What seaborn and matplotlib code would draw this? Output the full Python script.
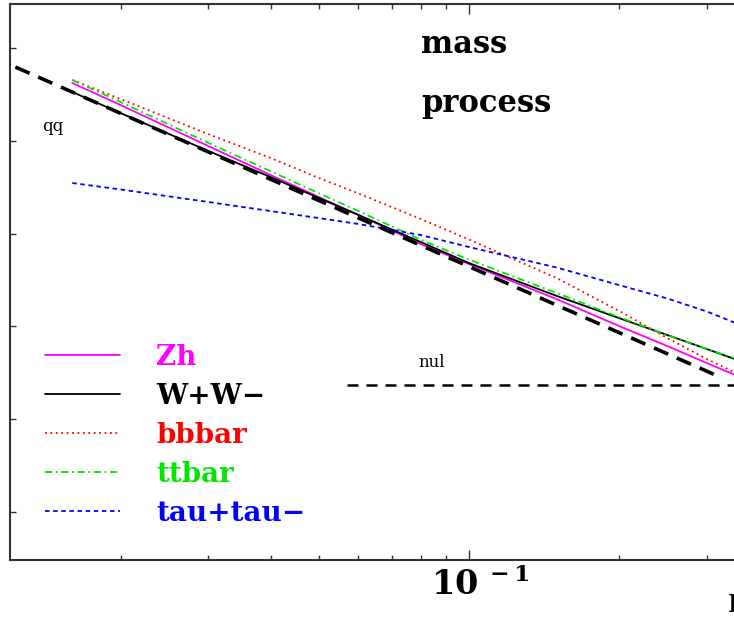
import pandas as pd
import matplotlib
matplotlib.use('Agg')
import matplotlib.pyplot as plt
import matplotlib.transforms as mtransforms
import seaborn as sns

x_grid = [0.016, 0.02, 0.03, 0.04, 0.05, 0.06, 0.08, 0.1, 0.15, 0.2, 0.25, 0.3, 0.35]

zh = [0.420, 0.243, 0.0879, 0.0428, 0.0248, 0.0159, 0.00773, 0.00470, 0.00197,
      0.00101, 0.000615, 0.000403, 0.000285]
ww = [0.336, 0.199, 0.0777, 0.0407, 0.0242, 0.0159, 0.00812, 0.00482, 0.00213,
      0.00123, 0.000808, 0.000571, 0.000424]
bb = [0.452, 0.282, 0.118, 0.0653, 0.0397, 0.0271, 0.0144, 0.00864, 0.00332,
      0.00147, 0.000750, 0.000445, 0.000300]
tt = [0.452, 0.262, 0.0950, 0.0470, 0.0272, 0.0175, 0.00860, 0.00525, 0.00229,
      0.00126, 0.000808, 0.000571, 0.000434]
tautau = [0.0351, 0.0299, 0.0219, 0.0175, 0.0147, 0.0127, 0.00966, 0.00717, 0.00431,
          0.00279, 0.00200, 0.00145, 0.00104]

# thick dashed reference line and the horizontal "nul" line
ref_x = [0.0123, 0.319]
ref_y = [0.624, 0.000285]
nul_x = [0.0569, 0.45]
nul_y = [0.000234, 0.000234]

processes = ['Zh', 'W+W\u2212', 'bbbar', 'ttbar', 'tau+tau\u2212']
colors = ['#ff00ff', 'black', '#ff0000', '#00e600', '#0000ff']
dash_list = ['', '', (1, 2), (4, 2, 1, 2), (2.5, 2)]

df = pd.concat([pd.DataFrame({'x': x_grid, 'y': v, 'process': p})
                for p, v in zip(processes, [zh, ww, bb, tt, tautau])])

sns.set_style('ticks')
plt.rcParams['font.family'] = ['DejaVu Serif']
plt.rcParams['mathtext.fontset'] = 'dejavuserif'
plt.rcParams['text.color'] = 'black'
plt.rcParams['xtick.color'] = 'black'
plt.rcParams['ytick.color'] = 'black'

fig = plt.figure(figsize=(7.34, 6.17), dpi=100)
ax = fig.add_axes([10/734, 57/617, 759/734, 556/617])
ax.set_xscale('log')
ax.set_yscale('log')

sns.lineplot(data=df, x='x', y='y', hue='process', style='process',
             hue_order=processes, style_order=processes,
             palette=dict(zip(processes, colors)),
             dashes=dict(zip(processes, dash_list)),
             linewidth=1.3, estimator=None, ax=ax)

ax.plot(ref_x, ref_y, color='black', lw=2.6, dashes=(4.3, 2.6))
ax.plot(nul_x, nul_y, color='black', lw=1.8, dashes=(4.4, 3.2))

ax.set_xlim(0.012, 0.4)
ax.set_ylim(3.04e-6, 2.98)

# only the 10^-1 decade is inside the frame; its label sits a bit right of the tick
ax.set_xticks([0.1])
ax.set_xticklabels([''])
shift = mtransforms.ScaledTranslation(0.11, -0.075, fig.dpi_scale_trans)
xlab_tr = mtransforms.blended_transform_factory(ax.transData, ax.transAxes) + shift
ax.text(0.1, 0, r'$\mathbf{10^{\ -1}}$', transform=xlab_tr, fontsize=24,
        ha='center', va='top')
ax.xaxis.set_minor_formatter(matplotlib.ticker.NullFormatter())
ax.set_yticks([1e-5, 1e-4, 1e-3, 1e-2, 1e-1, 1e0])
ax.set_yticklabels([''] * 6)
ax.yaxis.set_minor_locator(matplotlib.ticker.NullLocator())
ax.tick_params(which='both', direction='in', top=True, right=True, width=1, color='#333333')
ax.tick_params(axis='x', which='major', length=7)
ax.tick_params(axis='x', which='minor', length=3.5)
ax.tick_params(axis='y', which='major', length=4)
for s in ax.spines.values():
    s.set_linewidth(1.5)
    s.set_color('#333333')
ax.set_xlabel('')
ax.set_ylabel('')

leg = ax.legend(loc='upper left', bbox_to_anchor=(45/734, 1 - 344/617),
                bbox_transform=fig.transFigure, frameon=False,
                prop={'family': 'DejaVu Serif', 'weight': 'bold', 'size': 20},
                labelcolor='linecolor', handlelength=2.7, handletextpad=1.3,
                labelspacing=0.43, borderpad=0, borderaxespad=0)

ax.text(0.5415, 0.912, 'mass', transform=ax.transAxes, fontsize=22, fontweight='bold', va='baseline')
ax.text(0.5415, 0.806, 'process', transform=ax.transAxes, fontsize=22, fontweight='bold', va='baseline')
ax.text(0.042, 0.7716, 'qq', transform=ax.transAxes, fontsize=12, va='baseline')
ax.text(0.5375, 0.347, 'nul', transform=ax.transAxes, fontsize=12, va='baseline')
fig.text(728/734, 5/617, 'I', fontsize=17, fontweight='bold', va='baseline')

fig.savefig('out.png', dpi=100)
